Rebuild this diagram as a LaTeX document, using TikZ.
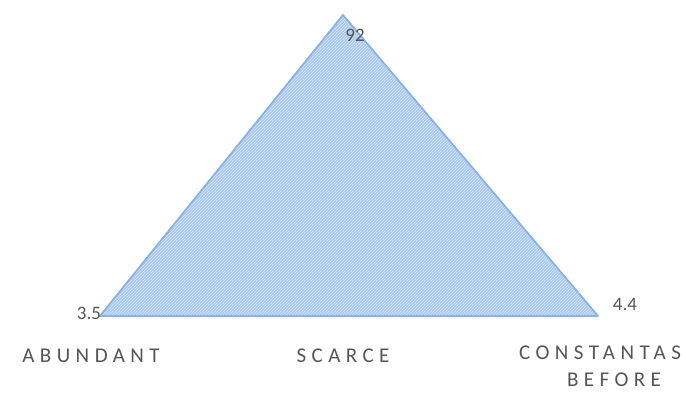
\documentclass[tikz,border=0pt]{standalone}
\usepackage{fontspec}
\setmainfont{Carlito}
\newfontfamily\spacedfont[LetterSpace=26]{Carlito}
\usetikzlibrary{patterns}
\definecolor{TriFill}{RGB}{170,201,238}
\definecolor{TriEdge}{RGB}{140,178,226}
\definecolor{LabelGray}{RGB}{85,85,85}

\begin{document}
\begin{tikzpicture}[x=1pt,y=1pt,
num/.style={font=\fontsize{19}{19}\selectfont,text=LabelGray,inner sep=0pt},
cat/.style={font=\spacedfont\fontsize{21}{27}\selectfont,text=LabelGray,align=center,inner sep=0pt}
]
\useasboundingbox (0,0) rectangle (686,400);
\coordinate (top) at (343,385);
\coordinate (left) at (100,84);
\coordinate (right) at (598,84);
\fill[TriFill] (top)--(left)--(right)--cycle;
\fill[pattern=north east lines,pattern color=white!50!TriFill] (top)--(left)--(right)--cycle;
\draw[TriEdge,line width=1.8pt,line join=round] (top)--(left)--(right)--cycle;
\node[num] (vtop) at (355,365) {92};
\node[num] (vleft) at (89,87) {3.5};
\node[num] (vright) at (625,96) {4.4};
\node[cat] (ab) at (91,44) {ABUNDANT};
\node[cat] (sc) at (343,44) {SCARCE};
\node[cat,anchor=north] (co) at (600,54) {CONSTANTAS\\\hspace*{28pt}BEFORE};
\end{tikzpicture}
\end{document}
